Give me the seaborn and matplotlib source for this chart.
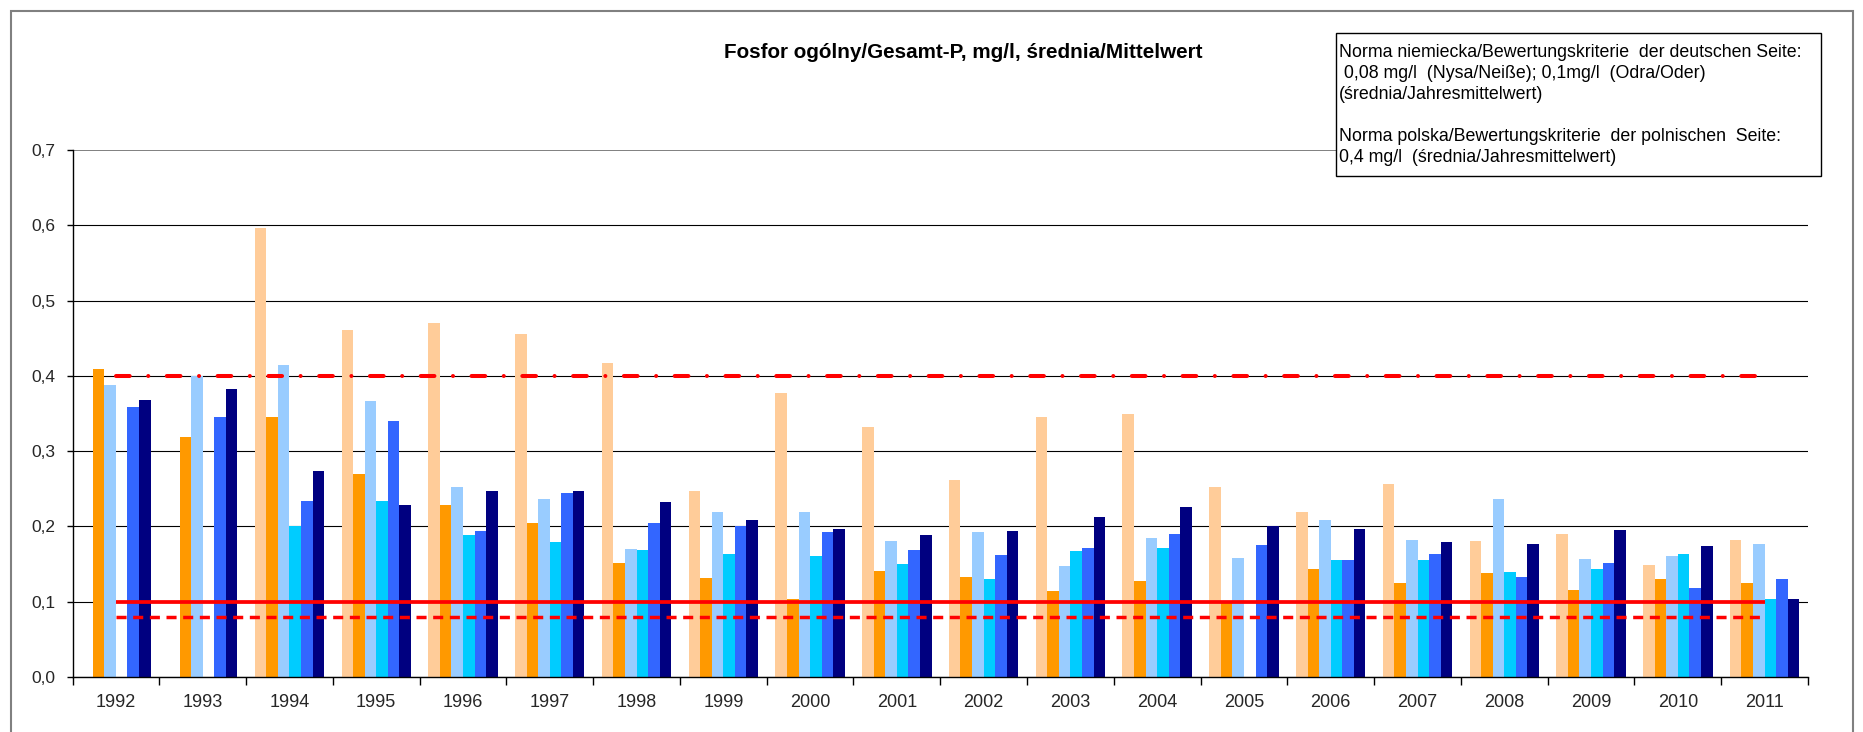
import numpy as np
import pandas as pd
import seaborn as sns
import matplotlib.pyplot as plt
from matplotlib.patches import Rectangle

# --- data -------------------------------------------------------------
years = ["1992", "1993", "1994", "1995", "1996", "1997", "1998", "1999", "2000", "2001",
         "2002", "2003", "2004", "2005", "2006", "2007", "2008", "2009", "2010", "2011"]

nan = np.nan
series_names = ["P1", "P2", "P3", "P4", "P5", "P6"]
p1 = [nan, nan, 0.597, 0.461, 0.470, 0.455, 0.417, 0.247, 0.377, 0.332,
      0.262, 0.345, 0.350, 0.252, 0.219, 0.257, 0.180, 0.190, 0.149, 0.182]
p2 = [0.409, 0.319, 0.345, 0.269, 0.229, 0.204, 0.152, 0.131, 0.104, 0.141,
      0.133, 0.114, 0.128, 0.101, 0.144, 0.125, 0.138, 0.116, 0.130, 0.125]
p3 = [0.388, 0.400, 0.415, 0.366, 0.252, 0.237, 0.170, 0.219, 0.219, 0.180,
      0.193, 0.148, 0.185, 0.158, 0.208, 0.182, 0.237, 0.157, 0.161, 0.176]
p4 = [nan, nan, 0.200, 0.234, 0.188, 0.179, 0.169, 0.164, 0.161, 0.150,
      0.130, 0.167, 0.171, nan, 0.155, 0.156, 0.139, 0.144, 0.163, 0.104]
p5 = [0.359, 0.346, 0.234, 0.340, 0.194, 0.245, 0.205, 0.200, 0.193, 0.169,
      0.162, 0.171, 0.190, 0.175, 0.155, 0.163, 0.133, 0.152, 0.118, 0.130]
p6 = [0.368, 0.382, 0.273, 0.228, 0.247, 0.247, 0.232, 0.209, 0.196, 0.188,
      0.194, 0.213, 0.226, 0.200, 0.197, 0.179, 0.177, 0.195, 0.174, 0.104]

colors = ["#FFCC99", "#FF9900", "#99CCFF", "#00CCFF", "#3366FF", "#000080"]

norm_pl = 0.4          # Polish criterion
norm_de_oder = 0.1     # German criterion, Odra/Oder
norm_de_nysa = 0.08    # German criterion, Nysa/Neiße

y_ticks = [0.0, 0.1, 0.2, 0.3, 0.4, 0.5, 0.6, 0.7]
y_tick_labels = ["0,0", "0,1", "0,2", "0,3", "0,4", "0,5", "0,6", "0,7"]

title = "Fosfor ogólny/Gesamt-P, mg/l, średnia/Mittelwert"
note_lines = [
    "Norma niemiecka/Bewertungskriterie  der deutschen Seite:",
    " 0,08 mg/l  (Nysa/Neiße); 0,1mg/l  (Odra/Oder)",
    "(średnia/Jahresmittelwert)",
    "",
    "Norma polska/Bewertungskriterie  der polnischen  Seite:",
    "0,4 mg/l  (średnia/Jahresmittelwert)",
]

# --- long-form table ---------------------------------------------------
frames = []
for name, vals in zip(series_names, [p1, p2, p3, p4, p5, p6]):
    frames.append(pd.DataFrame({"rok": years, "seria": name, "P": vals}))
df = pd.concat(frames, ignore_index=True).dropna()

# --- figure ------------------------------------------------------------
sns.set_theme(style="white")
plt.rcParams["font.family"] = ["Liberation Sans", "DejaVu Sans"]

W, H = 1863, 732
fig = plt.figure(figsize=(W / 100, H / 100), dpi=100)
ax = fig.add_axes([72.5 / W, 1 - 677 / H, (1808 - 72.5) / W, (677 - 150) / H])

sns.barplot(data=df, x="rok", y="P", hue="seria", order=years,
            hue_order=series_names, palette=colors, errorbar=None,
            width=0.8, saturation=1, legend=False, ax=ax, zorder=2)
for p in ax.patches:
    p.set_linewidth(0)

n = len(years)
ax.set_xlim(-0.5, n - 0.5)
ax.set_ylim(0, 0.7)

# criterion lines spanning first to last category
lc = ax.hlines(norm_pl, 0, n - 1, colors="#FF0000", linewidth=2.9, zorder=4,
               linestyles=[(0, (3.4, 4.6, 0.01, 4.6))])
lc.set_capstyle("round")
ax.hlines(norm_de_oder, 0, n - 1, colors="#FF0000", linewidth=2.7, zorder=4)
ax.hlines(norm_de_nysa, 0, n - 1, colors="#FF0000", linewidth=2.5, zorder=4,
          linestyles=[(0, (2.9, 1.9))])

# y axis
ax.set_yticks(y_ticks)
ax.set_yticklabels(y_tick_labels, fontsize=12.5)
ax.yaxis.grid(True, color="black", linewidth=0.8)
top_grid = ax.get_ygridlines()[-1]
top_grid.set_color("#808080")
top_grid.set_linewidth(1.4)
ax.set_axisbelow(True)
ax.tick_params(axis="y", which="major", direction="out", length=4, width=1,
               color="black", pad=8, left=True)

# x axis: labels at centres, ticks at category boundaries
ax.set_xticks(range(n))
ax.set_xticklabels(years, fontsize=13)
ax.set_xticks(np.arange(n + 1) - 0.5, minor=True)
ax.tick_params(axis="x", which="major", length=0, pad=12)
ax.tick_params(axis="x", which="minor", direction="out", length=6, width=1,
               color="black", bottom=True)
ax.set_xlabel("")
ax.set_ylabel("")

for side in ["top", "right"]:
    ax.spines[side].set_visible(False)
for side in ["left", "bottom"]:
    ax.spines[side].set_color("black")
    ax.spines[side].set_linewidth(1)

# chart border
fig.patches.append(Rectangle((11 / W, -0.05), (1853 - 11) / W, 1 - 11 / H + 0.05,
                             transform=fig.transFigure, fill=False,
                             edgecolor="#808080", linewidth=1.5, zorder=0))

# title
fig.text(963 / W, 1 - 52 / H, title, ha="center", va="center",
         fontsize=14.85, fontweight="bold", color="black")

# criteria note box
fig.patches.append(Rectangle((1336 / W, 1 - 176 / H), (1821 - 1336) / W, (176 - 33) / H,
                             transform=fig.transFigure, facecolor="white",
                             edgecolor="black", linewidth=1, zorder=5))
fig.text(1339 / W, 1 - 44 / H, "\n".join(note_lines), ha="left", va="top",
         fontsize=12.75, linespacing=1.31, color="black", zorder=6)

fig.savefig("out.png", dpi=100, facecolor="white")
